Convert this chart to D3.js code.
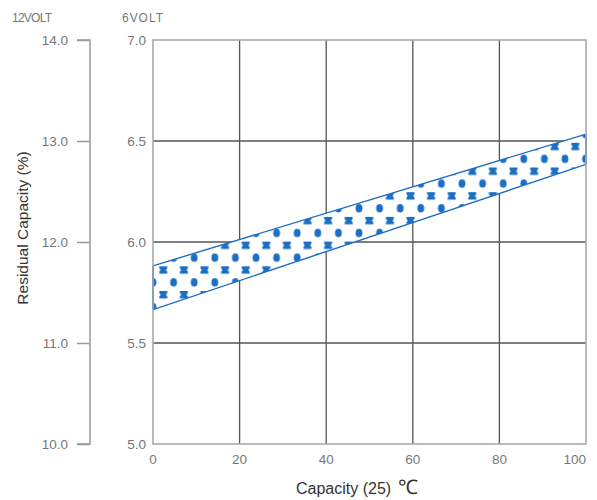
<!DOCTYPE html>
<html><head><meta charset="utf-8">
<script src="https://cdn.jsdelivr.net/npm/d3@7"></script>
<style>body{margin:0;background:#fff}svg{display:block}</style>
</head><body>
<svg id="c" width="597" height="500"></svg>
<script>
const capacity = [0, 100];
const upper6V = [5.882, 6.534];
const lower6V = [5.665, 6.384];
const xTicks = [0, 20, 40, 60, 80, 100];
const y6Ticks = [5.0, 5.5, 6.0, 6.5, 7.0];
const y12Ticks = [10.0, 11.0, 12.0, 13.0, 14.0];

const svg = d3.select("#c");
const L = 153, R = 586, T = 40, B = 444;
const x = d3.scaleLinear().domain([0, 100]).range([L, R]);
const y6 = d3.scaleLinear().domain([5, 7]).range([B, T]);
const y12 = d3.scaleLinear().domain([10, 14]).range([B, T]);
const blue = "#1b6fc4", grey = "#777";
const font = "'Liberation Sans', Arial, sans-serif";

// pattern
const defs = svg.append("defs");
const pw = 20.6, ph = 24.7;
const pat = defs.append("pattern").attr("id", "dots").attr("patternUnits", "userSpaceOnUse")
  .attr("width", pw).attr("height", ph).attr("x", 163.3 - pw / 2).attr("y", 270 - ph * 0.75);
pat.append("rect").attr("width", pw).attr("height", ph).attr("fill", "#fff");
const bx = pw / 2, by = ph * 0.75, hw = 4, hh = 3.6;
pat.append("path").attr("fill", blue)
  .attr("d", `M${bx-hw},${by-hh} L${bx+hw},${by-hh} L${bx+hw},${by-1.5} Q${bx+1.6},${by} ${bx+hw},${by+1.5} L${bx+hw},${by+hh} L${bx-hw},${by+hh} L${bx-hw},${by+1.5} Q${bx-1.6},${by} ${bx-hw},${by-1.5} Z`);
[[0, ph * 0.25], [pw, ph * 0.25]].forEach(([cx, cy]) => {
  pat.append("ellipse").attr("cx", cx).attr("cy", cy).attr("rx", 3.4).attr("ry", 4.3).attr("fill", blue);
});

// grid lines
const g = svg.append("g");
xTicks.slice(1, -1).forEach(t => g.append("line").attr("x1", x(t)).attr("x2", x(t)).attr("y1", T).attr("y2", B)
  .attr("stroke", "#555").attr("stroke-width", 1.3));
y6Ticks.slice(1, -1).forEach(t => g.append("line").attr("x1", L).attr("x2", R).attr("y1", y6(t)).attr("y2", y6(t))
  .attr("stroke", "#555").attr("stroke-width", 1.3));

// band
const pts = capacity.map((c, i) => ({ c, u: upper6V[i], l: lower6V[i] }));
const area = d3.area().x(d => x(d.c)).y0(d => y6(d.l)).y1(d => y6(d.u));
svg.append("path").datum(pts).attr("d", area).attr("fill", "url(#dots)").attr("stroke", "none");
const lineU = d3.line().x(d => x(d.c)).y(d => y6(d.u));
const lineL = d3.line().x(d => x(d.c)).y(d => y6(d.l));
svg.append("path").datum(pts).attr("d", lineU).attr("fill", "none").attr("stroke", blue).attr("stroke-width", 1.4);
svg.append("path").datum(pts).attr("d", lineL).attr("fill", "none").attr("stroke", blue).attr("stroke-width", 1.4);
svg.append("line").attr("x1", L).attr("x2", L).attr("y1", y6(upper6V[0])).attr("y2", y6(lower6V[0])).attr("stroke", blue).attr("stroke-width", 2);
svg.append("line").attr("x1", R).attr("x2", R).attr("y1", y6(upper6V[1])).attr("y2", y6(lower6V[1])).attr("stroke", blue).attr("stroke-width", 2);

// frame
svg.append("rect").attr("x", L).attr("y", T).attr("width", R - L).attr("height", B - T)
  .attr("fill", "none").attr("stroke", "#aaa").attr("stroke-width", 1.6);

// 6V axis labels
svg.append("g").selectAll("text").data(y6Ticks).join("text")
  .attr("x", 146).attr("y", d => y6(d)).attr("dy", "0.35em").attr("text-anchor", "end")
  .attr("font-family", font).attr("font-size", 13.5).attr("fill", grey).text(d => d.toFixed(1));

// 12V axis
const a12 = svg.append("g").attr("transform", `translate(90,0)`)
  .call(d3.axisLeft(y12).tickValues(y12Ticks).tickSize(13).tickFormat(d => d.toFixed(1)));
a12.select(".domain").attr("stroke", "#999").attr("stroke-width", 1.5).attr("d", `M-13,${T}H0V${B}H-13`);
a12.selectAll(".tick line").attr("stroke", "#999").attr("stroke-width", 1.5);
a12.selectAll(".tick text").attr("x", -22).attr("font-family", font).attr("font-size", 13.5).attr("fill", grey);

// x labels
svg.append("g").selectAll("text").data(xTicks).join("text")
  .attr("x", d => x(d)).attr("y", 459).attr("dy", "0.35em")
  .attr("text-anchor", d => d === 100 ? "end" : "middle")
  .attr("font-family", font).attr("font-size", 13.5).attr("fill", grey).text(d => d);

// titles
svg.append("text").attr("x", 12).attr("y", 22).attr("font-family", font).attr("font-size", 12).attr("fill", grey)
  .attr("textLength", 40).text("12VOLT");
svg.append("text").attr("x", 122).attr("y", 22).attr("font-family", font).attr("font-size", 12).attr("fill", grey)
  .attr("textLength", 41).text("6VOLT");
svg.append("text").attr("x", 296).attr("y", 494).attr("font-family", font)
  .attr("font-size", 16).attr("fill", "#333")
  .text("Capacity (25) ").append("tspan").attr("font-size", 20).attr("dx", 2).text("℃");
svg.append("text").attr("transform", "translate(28,228) rotate(-90)").attr("text-anchor", "middle")
  .attr("font-family", font).attr("font-size", 15.5).attr("fill", "#333").text("Residual Capacity (%)");
</script>
</body></html>
